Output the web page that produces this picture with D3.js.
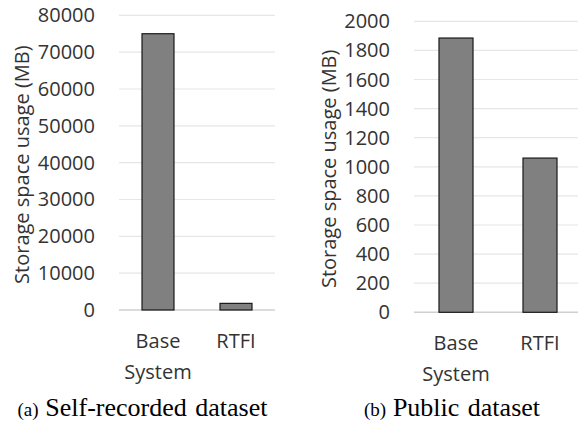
<!DOCTYPE html>
<html><head><meta charset="utf-8">
<script src="https://cdn.jsdelivr.net/npm/d3@7"></script>
<style>body{margin:0;background:#fff}svg{display:block}</style>
</head><body>
<script>
const categories = ["Base System", "RTFI"];
const selfRecorded = [75000, 1800];
const publicData = [1885, 1060];
const ticksA = [0,10000,20000,30000,40000,50000,60000,70000,80000];
const ticksB = [0,200,400,600,800,1000,1200,1400,1600,1800,2000];
const yTitle = "Storage space usage (MB)";
const captionsPrefix = ["(a)", "(b)"];
const captions = ["Self-recorded dataset", "Public dataset"];

const W = 578, H = 422;
const svg = d3.select("body").append("svg").attr("width", W).attr("height", H);
const tickFont = "'Open Sans', sans-serif";
const FS = 20;

function panel(cfg) {
  const g = svg.append("g");
  const y = d3.scaleLinear().domain(cfg.domain).range([cfg.bottom, cfg.top]);
  const x = d3.scaleBand().domain(categories).range([cfg.left, cfg.right])
    .paddingInner(cfg.padIn).paddingOuter(cfg.padIn / 2);
  // gridlines
  g.selectAll("line.grid").data(cfg.ticks.filter(t => t > 0)).join("line")
    .attr("x1", cfg.left).attr("x2", Math.min(cfg.right, W))
    .attr("y1", d => y(d)).attr("y2", d => y(d))
    .attr("stroke", "#e6e6e6").attr("stroke-width", 1.2);
  // baseline
  g.append("line").attr("x1", cfg.left).attr("x2", Math.min(cfg.right, W))
    .attr("y1", y(0)).attr("y2", y(0)).attr("stroke", "#d0d0d0").attr("stroke-width", 1.5);
  // bars
  g.selectAll("rect.bar").data(cfg.values).join("rect")
    .attr("x", (d, i) => x(categories[i]))
    .attr("width", x.bandwidth())
    .attr("y", d => y(d))
    .attr("height", d => y(0) - y(d))
    .attr("fill", "#808080").attr("stroke", "#1a1a1a").attr("stroke-width", 1.2);
  // tick labels
  g.selectAll("text.tick").data(cfg.ticks).join("text")
    .attr("x", cfg.tickX).attr("y", d => y(d)).attr("dy", "0.35em")
    .attr("text-anchor", "end").attr("font-family", tickFont).attr("font-size", FS)
    .attr("fill", "#333").text(d => d);
  // category labels
  categories.forEach(c => {
    const words = c.split(" ");
    const cx = x(c) + x.bandwidth() / 2;
    words.forEach((w, j) => {
      g.append("text").attr("x", cx).attr("y", cfg.catY + j * 31)
        .attr("text-anchor", "middle").attr("font-family", tickFont).attr("font-size", FS)
        .attr("fill", "#333").text(w);
    });
  });
  // y title
  g.append("text")
    .attr("transform", `translate(${cfg.titleX},${(cfg.top + cfg.bottom) / 2 + 2}) rotate(-90)`)
    .attr("text-anchor", "middle").attr("font-family", tickFont).attr("font-size", FS)
    .attr("fill", "#333").text(yTitle);
  // caption
  const cap = g.append("text").attr("x", cfg.capX).attr("y", 416)
    .attr("text-anchor", "middle").attr("font-family", "'Liberation Serif', 'Times New Roman', serif")
    .attr("fill", "#000").attr("word-spacing", 2);
  cap.append("tspan").attr("font-size", 19).text(cfg.prefix + " ");
  cap.append("tspan").attr("font-size", 26).text(cfg.caption);
}

panel({domain: [0, 80000], top: 15.3, bottom: 310, left: 119, right: 275, padIn: 0.59,
  ticks: ticksA, values: selfRecorded, tickX: 95, catY: 348, titleX: 29,
  capX: 142.5, prefix: captionsPrefix[0], caption: captions[0]});
panel({domain: [0, 2000], top: 21.3, bottom: 312.3, left: 414, right: 582, padIn: 0.595,
  ticks: ticksB, values: publicData, tickX: 390, catY: 350, titleX: 336,
  capX: 452, prefix: captionsPrefix[1], caption: captions[1]});
</script>
</body></html>
